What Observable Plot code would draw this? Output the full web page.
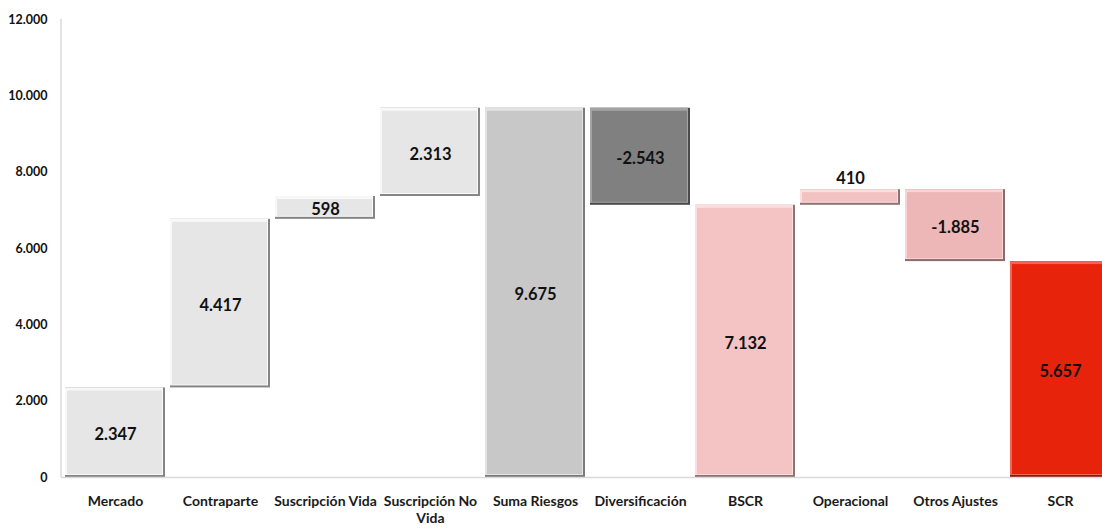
<!DOCTYPE html>
<html>
<head>
<meta charset="utf-8">
<script src="https://cdn.jsdelivr.net/npm/d3@7"></script>
<script src="https://cdn.jsdelivr.net/npm/@observablehq/plot@0.6"></script>
<style>
  body { margin: 0; background: #fff; }
  svg { font-family: Lato, "Open Sans", sans-serif; }
</style>
</head>
<body>
<div id="chart"></div>
<script>
const categories = ["Mercado", "Contraparte", "Suscripción Vida", "Suscripción No Vida", "Suma Riesgos", "Diversificación", "BSCR", "Operacional", "Otros Ajustes", "SCR"];
const values = [2347, 4417, 598, 2313, 9675, -2543, 7132, 410, -1885, 5657];
const kinds = ["delta", "delta", "delta", "delta", "total", "delta", "total", "delta", "delta", "total"];
const yTicks = [0, 2000, 4000, 6000, 8000, 10000, 12000];

const fills = ["#e6e6e6", "#e6e6e6", "#e6e6e6", "#e6e6e6", "#c8c8c8", "#808080", "#f4c3c3", "#f2c1c1", "#edb7b7", "#e8230c"];
const darks = ["#858585", "#858585", "#858585", "#858585", "#7a7a7a", "#4a4a4a", "#8f7373", "#8f7373", "#8a6a6a", "#8a1a0c"];
const lights = ["#f8f8f8", "#f8f8f8", "#f8f8f8", "#f8f8f8", "#e2e2e2", "#a4a4a4", "#fcdede", "#fcdede", "#f8d4d4", "#f26550"];

let run = 0;
const data = categories.map((c, i) => {
  let y1, y2;
  if (kinds[i] === "total") { y1 = 0; y2 = values[i]; run = values[i]; }
  else { y1 = run; y2 = run + values[i]; run = y2; }
  return { cat: c, value: values[i], y1, y2, i };
});

const es = d3.formatLocale({ decimal: ",", thousands: ".", grouping: [3], minus: "-" });
const fmt = es.format(",d");
const tickLabel = { "Suscripción No Vida": "Suscripción No\nVida" };

const inside = data.filter(d => d.cat !== "Operacional").map(d => ({ ...d, ly: (d.y1 + d.y2) / 2 }));
const above = data.filter(d => d.cat === "Operacional").map(d => ({ ...d, ly: Math.max(d.y1, d.y2) }));

const chart = Plot.plot({
  width: 1102,
  height: 529,
  marginTop: 19,
  marginBottom: 52,
  marginLeft: 61,
  marginRight: 0,
  x: { domain: categories, range: [61, 1114], paddingInner: 0.05, paddingOuter: 0, label: null },
  y: { domain: [0, 12000], label: null },
  marks: [
    Plot.rect(data, { x: "cat", y1: "y1", y2: "y2", fill: d => darks[d.i] }),
    Plot.rect(data, { x: "cat", y1: "y1", y2: "y2", fill: d => lights[d.i], insetRight: 2, insetBottom: 2 }),
    Plot.rect(data, { x: "cat", y1: "y1", y2: "y2", fill: d => fills[d.i], insetTop: 3, insetLeft: 2, insetRight: 3, insetBottom: 3 }),
    Plot.axisY({ ticks: yTicks, tickFormat: d => fmt(d), tickSize: 0, tickPadding: 14, fontSize: 12.5, fontWeight: "bold", fill: "#111", label: null }),
    Plot.axisX({ tickSize: 0, tickPadding: 16, fontSize: 14, fontWeight: "bold", fill: "#1a1a1a", label: null, tickFormat: d => tickLabel[d] || d, lineHeight: 1.25 }),
    Plot.ruleY([0], { stroke: "#d9d9d9", strokeWidth: 1.5 }),
    Plot.text(inside, { x: "cat", y: "ly", text: d => fmt(d.value), fontSize: 16.5, fontWeight: "bold", fill: "#111", dy: 2 }),
    Plot.text(above, { x: "cat", y: "ly", text: d => fmt(d.value), fontSize: 16.5, fontWeight: "bold", fill: "#111", dy: -11 })
  ]
});

const svg = d3.select(chart);
svg.append("line").attr("x1", 61).attr("x2", 61).attr("y1", 19).attr("y2", 477).attr("stroke", "#d9d9d9").attr("stroke-width", 1.5);

document.getElementById("chart").appendChild(chart);
</script>
</body>
</html>
